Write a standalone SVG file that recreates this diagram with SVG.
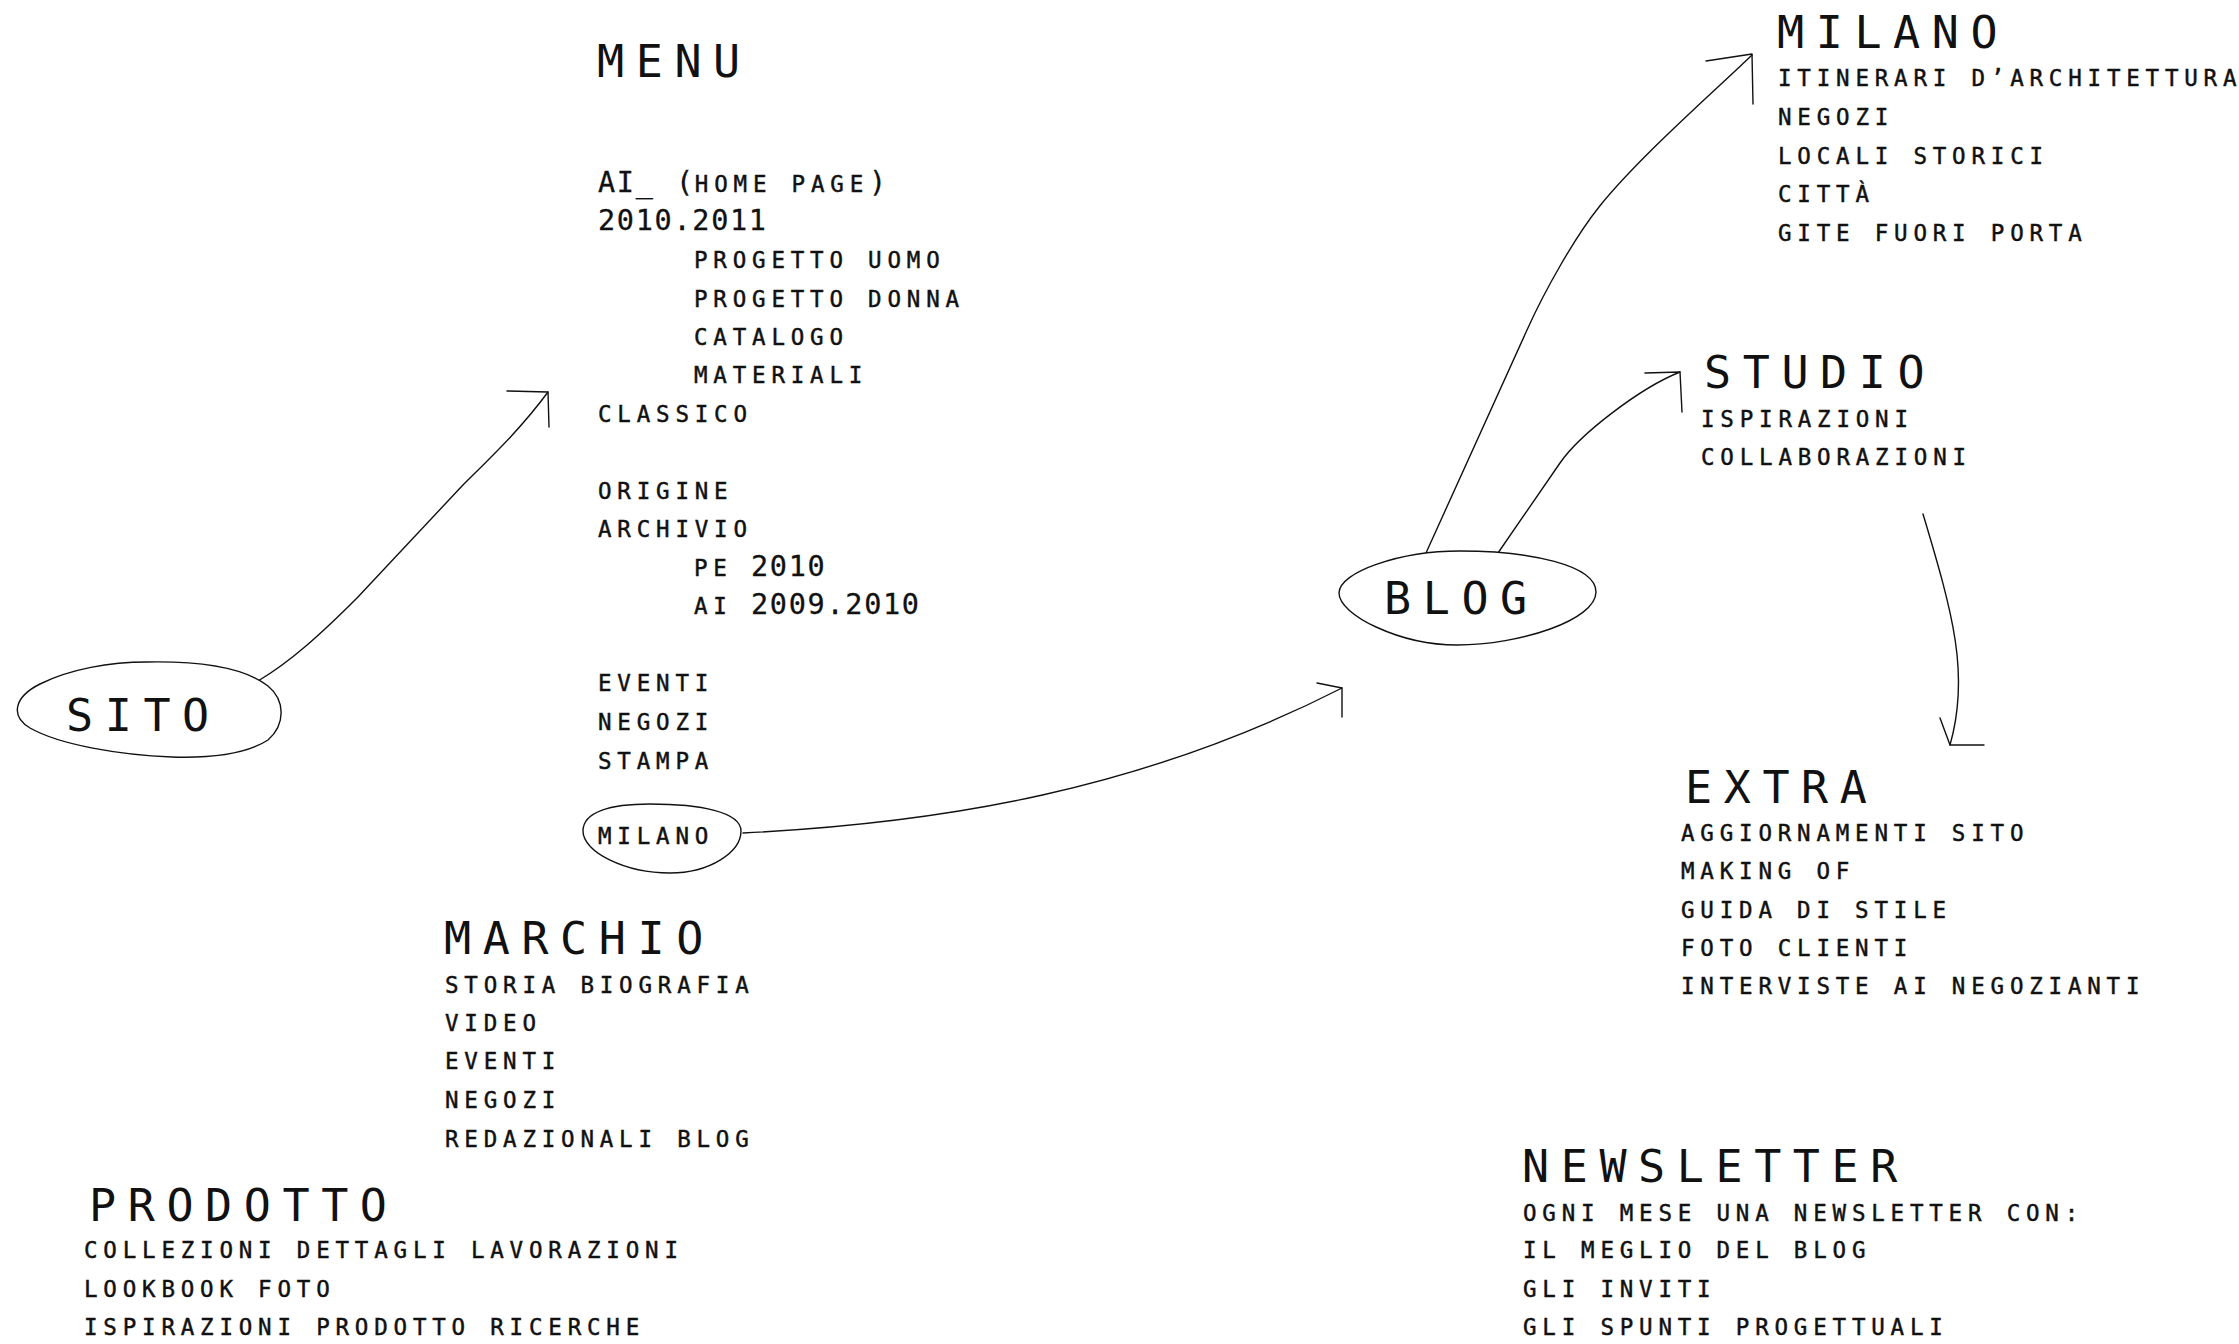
<svg xmlns="http://www.w3.org/2000/svg" width="2239" height="1344" viewBox="0 0 2239 1344">
  <style>
    text { font-family: "DejaVu Sans Mono", "Liberation Mono", monospace; fill: #111; }
    .h { font-size: 45px; letter-spacing: 11.6px; }
    .t { font-size: 22.5px; letter-spacing: 5.8px; stroke: #111; stroke-width: 0.45px; }
    .d { font-size: 28.5px; letter-spacing: 1.7px; stroke: #111; stroke-width: 0.3px; }
    .line { fill: none; stroke: #111; stroke-width: 1.4; stroke-linecap: round; stroke-linejoin: round; }
    .blob { fill: #fff; stroke: #111; stroke-width: 1.4; }
  </style>

  <rect width="2239" height="1344" fill="#fff"/>

  <!-- connectors: hand-drawn curves with open corner heads -->
  <g id="connectors">
    <!-- SITO to MENU -->
    <path class="line" d="M258,681 C290,662 320,635 357,598 L462,486 C490,458 520,430 548,392"/>
    <polyline class="line" points="507,391 548,392 549,427"/>
    <!-- MILANO (menu item) to BLOG -->
    <path class="line" d="M743,833 C943,823 1142,790 1342,688"/>
    <polyline class="line" points="1317,683 1342,688 1342,717"/>
    <!-- BLOG to MILANO -->
    <path class="line" d="M1426,553 L1527,330 C1545,290 1575,237 1599,207 C1639,157 1717,89 1752,55"/>
    <polyline class="line" points="1706,61 1752,54 1753,104"/>
    <!-- BLOG to STUDIO -->
    <path class="line" d="M1498,553 L1560,463 C1580,434 1640,388 1680,372"/>
    <polyline class="line" points="1645,373 1680,372 1682,412"/>
    <!-- STUDIO to EXTRA -->
    <path class="line" d="M1923,514 C1953,614 1970,675 1950,745"/>
    <polyline class="line" points="1940,718 1950,745 1984,745"/>
  </g>

  <!-- SITO -->
  <g id="sito">
    <path class="blob" d="M147,662 C200,661 245,668 268,686 C285,700 286,724 268,740 C245,755 205,758 172,757 C120,755 60,745 30,728 C10,716 14,697 40,684 C70,669 110,662 147,662 Z"/>
    <text class="h" x="66" y="731">SITO</text>
  </g>

  <!-- MENU -->
  <g id="menu">
    <text class="h" x="597" y="77">MENU</text>
    <text class="d" x="598" y="192">AI_</text>
    <text x="676" y="192"><tspan class="d">(</tspan><tspan class="t">HOME PAGE</tspan><tspan class="d">)</tspan></text>
    <text class="d" x="598" y="230">2010.2011</text>
    <text class="t" x="694" y="268">PROGETTO UOMO</text>
    <text class="t" x="694" y="307">PROGETTO DONNA</text>
    <text class="t" x="694" y="345">CATALOGO</text>
    <text class="t" x="694" y="383">MATERIALI</text>
    <text class="t" x="598" y="422">CLASSICO</text>
    <text class="t" x="598" y="499">ORIGINE</text>
    <text class="t" x="598" y="537">ARCHIVIO</text>
    <text class="t" x="694" y="576">PE</text>
    <text class="d" x="751" y="576">2010</text>
    <text class="t" x="694" y="614">AI</text>
    <text class="d" x="751" y="614">2009.2010</text>
    <text class="t" x="598" y="691">EVENTI</text>
    <text class="t" x="598" y="730">NEGOZI</text>
    <text class="t" x="598" y="769">STAMPA</text>
  </g>

  <!-- MILANO item inside the menu, circled -->
  <g id="menu-milano">
    <path class="blob" d="M650,804 C700,804 741,812 741,831 C741,852 710,873 670,873 C625,873 583,852 583,831 C583,812 610,804 650,804 Z"/>
    <text class="t" x="598" y="844">MILANO</text>
  </g>

  <!-- BLOG -->
  <g id="blog">
    <path class="blob" d="M1460,551 C1530,551 1596,565 1596,592 C1596,620 1520,645 1457,645 C1400,645 1339,615 1339,593 C1339,572 1400,551 1460,551 Z"/>
    <text class="h" x="1384" y="614">BLOG</text>
  </g>

  <!-- MILANO (blog section) -->
  <g id="milano">
    <text class="h" x="1777" y="48">MILANO</text>
    <text class="t" x="1778" y="86">ITINERARI D’ARCHITETTURA</text>
    <text class="t" x="1778" y="125">NEGOZI</text>
    <text class="t" x="1778" y="164">LOCALI STORICI</text>
    <text class="t" x="1778" y="202">CITTÀ</text>
    <text class="t" x="1778" y="241">GITE FUORI PORTA</text>
  </g>

  <!-- STUDIO -->
  <g id="studio">
    <text class="h" x="1704" y="388">STUDIO</text>
    <text class="t" x="1701" y="427">ISPIRAZIONI</text>
    <text class="t" x="1701" y="465">COLLABORAZIONI</text>
  </g>

  <!-- EXTRA -->
  <g id="extra">
    <text class="h" x="1685" y="803">EXTRA</text>
    <text class="t" x="1681" y="841">AGGIORNAMENTI SITO</text>
    <text class="t" x="1681" y="879">MAKING OF</text>
    <text class="t" x="1681" y="918">GUIDA DI STILE</text>
    <text class="t" x="1681" y="956">FOTO CLIENTI</text>
    <text class="t" x="1681" y="994">INTERVISTE AI NEGOZIANTI</text>
  </g>

  <!-- MARCHIO -->
  <g id="marchio">
    <text class="h" x="444" y="954">MARCHIO</text>
    <text class="t" x="445" y="993">STORIA BIOGRAFIA</text>
    <text class="t" x="445" y="1031">VIDEO</text>
    <text class="t" x="445" y="1069">EVENTI</text>
    <text class="t" x="445" y="1108">NEGOZI</text>
    <text class="t" x="445" y="1147">REDAZIONALI BLOG</text>
  </g>

  <!-- PRODOTTO -->
  <g id="prodotto">
    <text class="h" x="89" y="1221">PRODOTTO</text>
    <text class="t" x="84" y="1258">COLLEZIONI DETTAGLI LAVORAZIONI</text>
    <text class="t" x="84" y="1297">LOOKBOOK FOTO</text>
    <text class="t" x="84" y="1335">ISPIRAZIONI PRODOTTO RICERCHE</text>
  </g>

  <!-- NEWSLETTER -->
  <g id="newsletter">
    <text class="h" x="1522" y="1182">NEWSLETTER</text>
    <text class="t" x="1523" y="1221">OGNI MESE UNA NEWSLETTER CON:</text>
    <text class="t" x="1523" y="1258">IL MEGLIO DEL BLOG</text>
    <text class="t" x="1523" y="1297">GLI INVITI</text>
    <text class="t" x="1523" y="1335">GLI SPUNTI PROGETTUALI</text>
  </g>
</svg>
